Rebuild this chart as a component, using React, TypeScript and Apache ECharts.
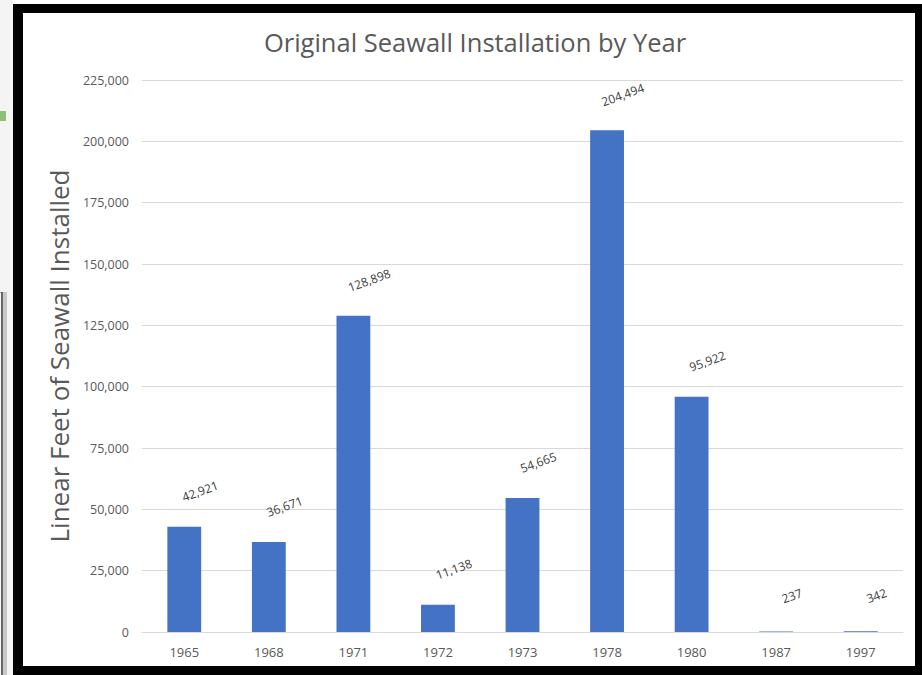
import React, { useEffect, useRef } from "react";
import * as echarts from "echarts";

const years = ["1965", "1968", "1971", "1972", "1973", "1978", "1980", "1987", "1997"];
const feet = [42921, 36671, 128898, 11138, 54665, 204494, 95922, 237, 342];
const yTicks = [0, 25000, 50000, 75000, 100000, 125000, 150000, 175000, 200000, 225000];

const fmt = (v: number) => v.toLocaleString("en-US");

export default function App() {
  const ref = useRef<HTMLDivElement>(null);
  useEffect(() => {
    document.body.style.margin = "0";
    const chart = echarts.init(ref.current!, null, { renderer: "svg" });
    chart.setOption({
      animation: false,
      backgroundColor: "#ffffff",
      title: {
        text: "Original Seawall Installation by Year",
        left: 470,
        top: 24,
        textAlign: "center",
        textStyle: { fontFamily: "Open Sans", fontSize: 25.5, fontWeight: "normal", color: "#595959" },
      },
      grid: { left: 142, right: 19, top: 80, bottom: 43 },
      xAxis: {
        type: "category",
        data: years,
        axisLine: { lineStyle: { color: "#d9d9d9" } },
        axisTick: { show: false },
        axisLabel: { fontFamily: "Open Sans", fontSize: 13, color: "#595959", margin: 13 },
      },
      yAxis: {
        type: "value",
        min: yTicks[0],
        max: yTicks[yTicks.length - 1],
        interval: 25000,
        name: "Linear Feet of Seawall Installed",
        nameLocation: "middle",
        nameGap: 70,
        nameTextStyle: { fontFamily: "Open Sans", fontSize: 26, color: "#595959" },
        axisLine: { show: false },
        axisTick: { show: false },
        splitLine: { lineStyle: { color: "#d9d9d9" } },
        axisLabel: { fontFamily: "Open Sans", fontSize: 12.5, color: "#595959", margin: 13, formatter: (v: number) => fmt(v) },
      },
      series: [
        {
          type: "bar",
          data: feet,
          barWidth: "40%",
          itemStyle: { color: "#4472C4" },
          label: {
            show: true,
            position: "top",
            distance: 0,
            rotate: 20,
            align: "center",
            verticalAlign: "middle",
            offset: [27, -28],
            fontFamily: "Open Sans",
            fontSize: 12,
            color: "#404040",
            formatter: (p: any) => fmt(p.value),
          },
        },
      ],
      graphic: [
        { type: "rect", silent: true, shape: { x: 0, y: 0, width: 13, height: 675 }, style: { fill: "#f4f4f4" } },
        { type: "rect", silent: true, shape: { x: 0, y: 111, width: 6, height: 10 }, style: { fill: "#8fbf72" } },
        { type: "rect", silent: true, shape: { x: 0, y: 292, width: 6, height: 1 }, style: { fill: "#999999" } },
        { type: "rect", silent: true, shape: { x: 1, y: 292, width: 2, height: 383 }, style: { fill: "#666666" } },
        { type: "rect", silent: true, shape: { x: 3, y: 292, width: 4, height: 383 }, style: { fill: "#c8c8c8" } },
        { type: "rect", silent: true, shape: { x: 13, y: 4, width: 909, height: 9 }, style: { fill: "#000000" } },
        { type: "rect", silent: true, shape: { x: 13, y: 4, width: 10, height: 671 }, style: { fill: "#000000" } },
        { type: "rect", silent: true, shape: { x: 915, y: 4, width: 7, height: 671 }, style: { fill: "#000000" } },
        { type: "rect", silent: true, shape: { x: 13, y: 666, width: 909, height: 9 }, style: { fill: "#000000" } },
      ],
    });
    return () => chart.dispose();
  }, []);
  return <div ref={ref} style={{ width: 922, height: 675 }} />;
}
